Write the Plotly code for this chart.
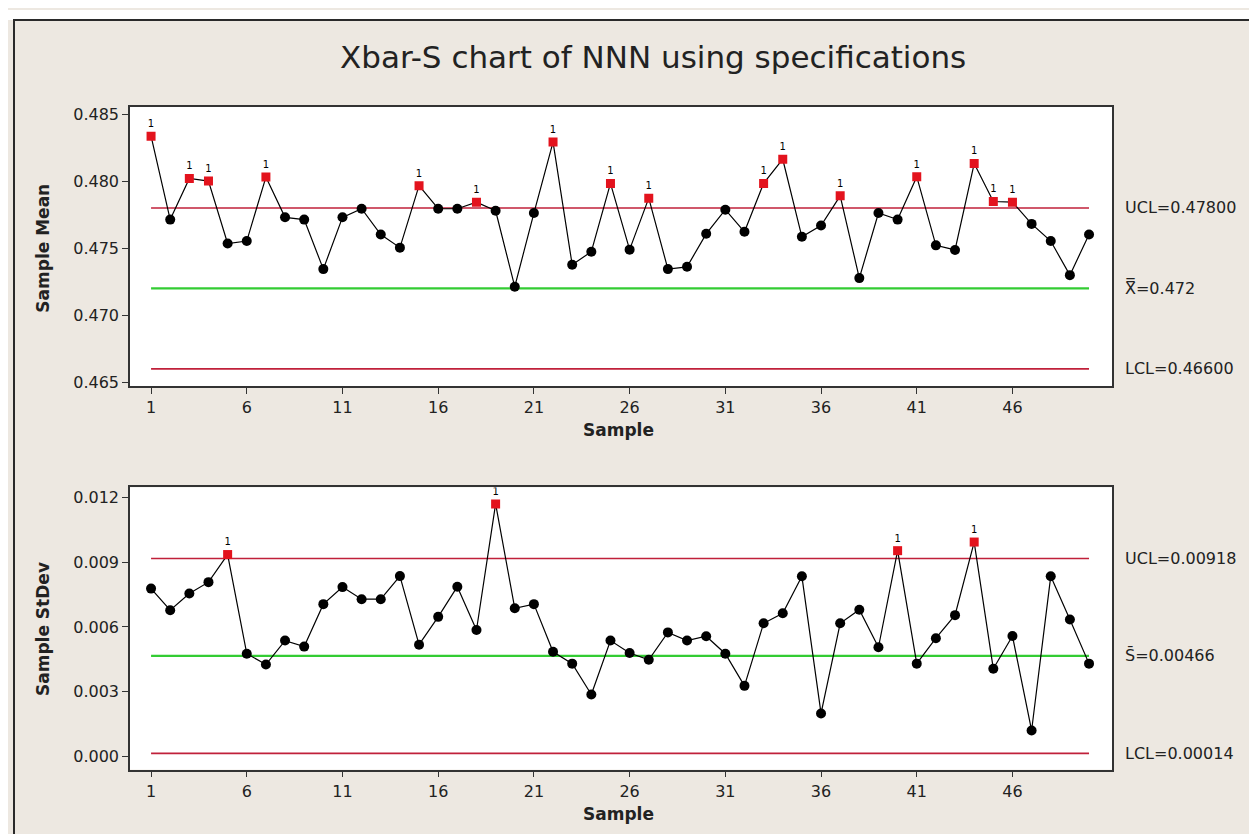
import plotly.graph_objects as go

# ---------------- data ----------------
samples = list(range(1, 51))

sample_mean = [
    0.48335, 0.47713, 0.48020, 0.48000, 0.47535, 0.47553, 0.48030, 0.47730, 0.47713, 0.47344,
    0.47730, 0.47794, 0.47602, 0.47504, 0.47966, 0.47794, 0.47794, 0.47843, 0.47779, 0.47213,
    0.47762, 0.48291, 0.47376, 0.47474, 0.47983, 0.47489, 0.47873, 0.47344, 0.47361, 0.47607,
    0.47787, 0.47622, 0.47983, 0.48163, 0.47585, 0.47669, 0.47890, 0.47277, 0.47762, 0.47713,
    0.48033, 0.47521, 0.47487, 0.48131, 0.47848, 0.47843, 0.47681, 0.47553, 0.47299, 0.47602,
]

sample_sd = [
    0.00778, 0.00678, 0.00755, 0.00808, 0.00936, 0.00476, 0.00426, 0.00537, 0.00509, 0.00706,
    0.00785, 0.00729, 0.00729, 0.00836, 0.00518, 0.00647, 0.00787, 0.00586, 0.01171, 0.00687,
    0.00706, 0.00485, 0.00430, 0.00287, 0.00537, 0.00479, 0.00448, 0.00575, 0.00537, 0.00557,
    0.00476, 0.00327, 0.00617, 0.00664, 0.00835, 0.00199, 0.00617, 0.00680, 0.00506, 0.00954,
    0.00430, 0.00548, 0.00655, 0.00994, 0.00406, 0.00558, 0.00120, 0.00835, 0.00635, 0.00430,
]

mean_limits = {"UCL": 0.47800, "CL": 0.472, "LCL": 0.46600}
sd_limits = {"UCL": 0.00918, "CL": 0.00466, "LCL": 0.00014}

mean_labels = ["UCL=0.47800", "X\u033f=0.472", "LCL=0.46600"]
sd_labels = ["UCL=0.00918", "S\u0304=0.00466", "LCL=0.00014"]

x_ticks = [1, 6, 11, 16, 21, 26, 31, 36, 41, 46]
mean_ticks = [0.465, 0.470, 0.475, 0.480, 0.485]
mean_ticktext = ["0.465", "0.470", "0.475", "0.480", "0.485"]
sd_ticks = [0.000, 0.003, 0.006, 0.009, 0.012]
sd_ticktext = ["0.000", "0.003", "0.006", "0.009", "0.012"]

title = "Xbar-S chart of NNN using specifications"

# ---------------- style ----------------
W, H = 1257, 834
BG = "#EDE8E1"
RED_PT = "#E3131D"
LIMIT_RED = "#C0203A"
CL_GREEN = "#33CC33"
FONT = "DejaVu Sans"
TXT = "#222222"


def px_x(p):
    return p / W


def px_y(p):
    return 1 - p / H


fig = go.Figure()


def add_chart(values, limits, yaxis):
    out = [v > limits["UCL"] or v < limits["LCL"] for v in values]
    colors = [RED_PT if o else "black" for o in out]
    symbols = ["square" if o else "circle" for o in out]
    sizes = [9 if o else 10 for o in out]
    texts = ["1" if o else "" for o in out]
    xa = "x" if yaxis == "y" else "x2"
    for key, col, w in (("UCL", LIMIT_RED, 1.6), ("CL", CL_GREEN, 2.2), ("LCL", LIMIT_RED, 1.6)):
        fig.add_trace(go.Scatter(
            x=[samples[0], samples[-1]], y=[limits[key]] * 2, mode="lines",
            line=dict(color=col, width=w), xaxis=xa, yaxis=yaxis,
            showlegend=False, hoverinfo="skip"))
    fig.add_trace(go.Scatter(
        x=samples, y=values, mode="lines+markers+text",
        line=dict(color="black", width=1.2),
        marker=dict(color=colors, symbol=symbols, size=sizes, opacity=1, line=dict(width=0)),
        text=texts, textposition="top center",
        textfont=dict(family=FONT, size=10, color="#000000"),
        xaxis=xa, yaxis=yaxis, showlegend=False, opacity=1))


add_chart(sample_mean, mean_limits, "y")
add_chart(sample_sd, sd_limits, "y2")

axis_common = dict(
    showline=True, mirror=True, linecolor="#333333", linewidth=1.5,
    ticks="outside", ticklen=6, tickcolor="#333333", tickwidth=1.2,
    showgrid=False, zeroline=False,
    tickfont=dict(family=FONT, size=16, color=TXT),
)

xdom = [px_x(122), px_x(1104)]
fig.update_layout(
    width=W, height=H,
    paper_bgcolor=BG, plot_bgcolor="white",
    margin=dict(l=0, r=0, t=0, b=0),
    showlegend=False,
    xaxis=dict(domain=xdom, range=[-0.1, 51.2], tickvals=x_ticks, anchor="y", **axis_common),
    yaxis=dict(domain=[px_y(380), px_y(98)], range=[0.46470, 0.48552],
               tickvals=mean_ticks, ticktext=mean_ticktext, anchor="x", **axis_common),
    xaxis2=dict(domain=xdom, range=[-0.1, 51.2], tickvals=x_ticks, anchor="y2", **axis_common),
    yaxis2=dict(domain=[px_y(767), px_y(482)], range=[-0.000617, 0.012476],
                tickvals=sd_ticks, ticktext=sd_ticktext, anchor="x2", **axis_common),
)

annotations = [
    dict(text=title, x=px_x(645), y=px_y(47), xref="paper", yref="paper",
         showarrow=False, xanchor="center", yanchor="middle",
         font=dict(family=FONT, size=31, color=TXT)),
    dict(text="<b>Sample Mean</b>", x=px_x(35), y=px_y(241), xref="paper", yref="paper",
         showarrow=False, textangle=-90, xanchor="center", yanchor="middle",
         font=dict(family=FONT, size=17, color=TXT)),
    dict(text="<b>Sample StDev</b>", x=px_x(35), y=px_y(625), xref="paper", yref="paper",
         showarrow=False, textangle=-90, xanchor="center", yanchor="middle",
         font=dict(family=FONT, size=17, color=TXT)),
    dict(text="<b>Sample</b>", x=px_x(610), y=px_y(424), xref="paper", yref="paper",
         showarrow=False, xanchor="center", yanchor="middle",
         font=dict(family=FONT, size=17, color=TXT)),
    dict(text="<b>Sample</b>", x=px_x(610), y=px_y(812), xref="paper", yref="paper",
         showarrow=False, xanchor="center", yanchor="middle",
         font=dict(family=FONT, size=17, color=TXT)),
]
for lab, key in zip(mean_labels, ("UCL", "CL", "LCL")):
    annotations.append(dict(text=lab, x=px_x(1115), y=mean_limits[key], xref="paper", yref="y",
                            showarrow=False, xanchor="left", yanchor="middle",
                            font=dict(family=FONT, size=16, color=TXT)))
for lab, key in zip(sd_labels, ("UCL", "CL", "LCL")):
    annotations.append(dict(text=lab, x=px_x(1115), y=sd_limits[key], xref="paper", yref="y2",
                            showarrow=False, xanchor="left", yanchor="middle",
                            font=dict(family=FONT, size=16, color=TXT)))
fig.update_layout(annotations=annotations)

fig.update_layout(shapes=[
    dict(type="rect", xref="paper", yref="paper", x0=0, x1=1, y0=px_y(10), y1=1.0,
         fillcolor="white", line=dict(width=0), layer="below"),
    dict(type="rect", xref="paper", yref="paper", x0=px_x(6), x1=px_x(1253), y0=-0.05, y1=px_y(10),
         fillcolor="rgba(0,0,0,0)", line=dict(color="#2a2a2a", width=2), layer="below"),
])

fig.write_html("out.html")
